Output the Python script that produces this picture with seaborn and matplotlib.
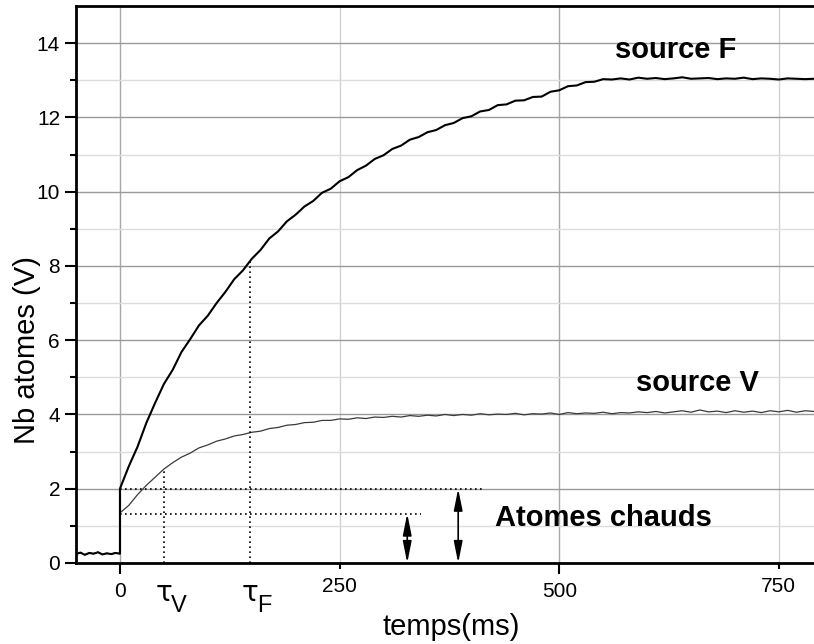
import numpy as np
import pandas as pd
import matplotlib
matplotlib.use("Agg")
import matplotlib.pyplot as plt
import seaborn as sns

# ---------------- data ----------------
pre_t = [-50, -45, -40, -35, -30, -25, -20, -15, -10, -5, 0]
pre_v = [0.24, 0.28, 0.22, 0.27, 0.25, 0.29, 0.23, 0.26, 0.24, 0.27, 0.25]

time_ms = list(range(0, 800, 10))

source_F = [2.00, 2.60, 3.13, 3.77, 4.31, 4.82, 5.20, 5.68, 6.03, 6.40,
            6.66, 7.00, 7.30, 7.64, 7.88, 8.19, 8.43, 8.74, 8.93, 9.20,
            9.38, 9.60, 9.75, 9.97, 10.08, 10.28, 10.39, 10.58, 10.70, 10.88,
            10.98, 11.15, 11.24, 11.40, 11.47, 11.60, 11.66, 11.79, 11.85, 11.98,
            12.03, 12.16, 12.20, 12.33, 12.35, 12.45, 12.46, 12.55, 12.56, 12.69,
            12.73, 12.84, 12.86, 12.95, 12.96, 13.03, 13.02,
            13.05, 13.02, 13.07, 13.04, 13.06, 13.03, 13.05, 13.08, 13.04, 13.05,
            13.06, 13.03, 13.05, 13.04, 13.07, 13.03, 13.05, 13.04, 13.02, 13.05,
            13.04, 13.03, 13.04]

source_V = [1.35, 1.55, 1.84, 2.09, 2.31, 2.53, 2.70, 2.85, 2.96, 3.10,
            3.18, 3.28, 3.34, 3.42, 3.46, 3.52, 3.55, 3.62, 3.65, 3.71,
            3.73, 3.78, 3.79, 3.84, 3.84, 3.88, 3.87, 3.91, 3.89, 3.93,
            3.92, 3.95, 3.93, 3.97, 3.95, 3.98, 3.96, 4.00, 3.97, 4.00,
            3.98, 4.02, 3.99, 4.01, 4.00, 4.03, 3.99, 4.02, 4.01, 4.04,
            4.00, 4.05, 4.02, 4.04, 4.03, 4.06, 4.02, 4.05, 4.04, 4.07,
            4.05, 4.08, 4.04, 4.07, 4.10, 4.06, 4.12, 4.07, 4.09, 4.05,
            4.10, 4.06, 4.09, 4.05, 4.10, 4.07, 4.11, 4.06, 4.10, 4.08]

tau_V = 50
tau_F = 148
tau_V_level = 2.53
tau_F_level = 8.17
hot_F = 2.0
hot_V = 1.33
hot_F_line_end = 413
hot_V_line_end = 343
arrow_V_x = 327
arrow_F_x = 385

x_major = [0, 500]
x_minor = [250, 750]
y_major = list(range(0, 15, 2))
y_minor = list(range(1, 15, 2))

# ---------------- figure ----------------
sns.set_style("white")
plt.rcParams['font.family'] = ['Liberation Sans', 'DejaVu Sans']
plt.rcParams.update({"text.color": "black", "axes.labelcolor": "black",
                     "xtick.color": "black", "ytick.color": "black"})

fig = plt.figure(figsize=(8.14, 6.44), dpi=100)
ax = fig.add_axes([0.0934, 0.1258, 0.9066, 0.8649])

df_F = pd.DataFrame({"t": pre_t + time_ms, "v": pre_v + source_F})
df_V = pd.DataFrame({"t": pre_t + time_ms, "v": pre_v + source_V})

sns.lineplot(data=df_V, x="t", y="v", sort=False, estimator=None,
             color="#3a3a3a", lw=0.9, ax=ax)
sns.lineplot(data=df_F, x="t", y="v", sort=False, estimator=None,
             color="black", lw=1.5, ax=ax)

dot = dict(color="black", lw=1.2, ls=(0, (1, 2)))
ax.plot([tau_V, tau_V], [0, tau_V_level], **dot)
ax.plot([tau_F, tau_F], [0, tau_F_level], **dot)
ax.plot([0, hot_F_line_end], [hot_F, hot_F], **dot)
ax.plot([0, hot_V_line_end], [hot_V, hot_V], **dot)

arr = dict(arrowstyle="<|-|>,head_length=0.65,head_width=0.13", color="black",
           lw=1.2, mutation_scale=20, shrinkA=0, shrinkB=0)
ax.annotate("", xy=(arrow_V_x, 0), xytext=(arrow_V_x, hot_V), arrowprops=arr)
ax.annotate("", xy=(arrow_F_x, 0), xytext=(arrow_F_x, hot_F), arrowprops=arr)

ax.text(632, 13.81, "source F", fontsize=21, fontweight="bold",
        ha="center", va="center")
ax.text(657, 4.85, "source V", fontsize=21, fontweight="bold",
        ha="center", va="center")
ax.text(427, 1.21, "Atomes chauds", fontsize=21, fontweight="bold",
        ha="left", va="center")

for tx, sub in [(tau_V, "V"), (tau_F, "F")]:
    ax.text(tx, -0.80, "τ", fontsize=20, ha="center", va="center",
            clip_on=False, family=['DejaVu Sans'])
    ax.text(tx + 8, -1.17, sub, fontsize=17, ha="left", va="center",
            clip_on=False)

ax.set_xlim(-50, 790)
ax.set_ylim(0, 15)
ax.set_xticks(x_major, labels=[str(v) for v in x_major])
ax.set_xticks(x_minor, labels=[str(v) for v in x_minor], minor=True)
ax.set_yticks(y_major, labels=[str(v) for v in y_major])
ax.set_yticks(y_minor, minor=True)

ax.set_axisbelow(True)
ax.grid(which="major", axis="y", color="#9a9a9a", lw=1.0)
ax.grid(which="minor", axis="y", color="#dcdcdc", lw=1.0)
ax.grid(which="major", axis="x", color="#a8a8a8", lw=1.0)
ax.grid(which="minor", axis="x", color="#d2d2d2", lw=1.0)

ax.tick_params(which="both", direction="out", labelsize=15, color="black",
               labelcolor="black", width=1.5, left=True, bottom=True)
ax.tick_params(which="major", length=8)
ax.tick_params(which="minor", length=4)
ax.tick_params(axis="x", which="both", pad=6)

for s in ["left", "bottom", "top"]:
    ax.spines[s].set_color("black")
    ax.spines[s].set_linewidth(2)
ax.spines["right"].set_visible(False)

ax.set_xlabel("temps(ms)", fontsize=21)
ax.set_ylabel("Nb atomes (V)", fontsize=21)
ax.xaxis.set_label_coords(0.508, -0.09)
ax.yaxis.set_label_coords(-0.047, 0.382)

fig.savefig("out.png", dpi=100)
